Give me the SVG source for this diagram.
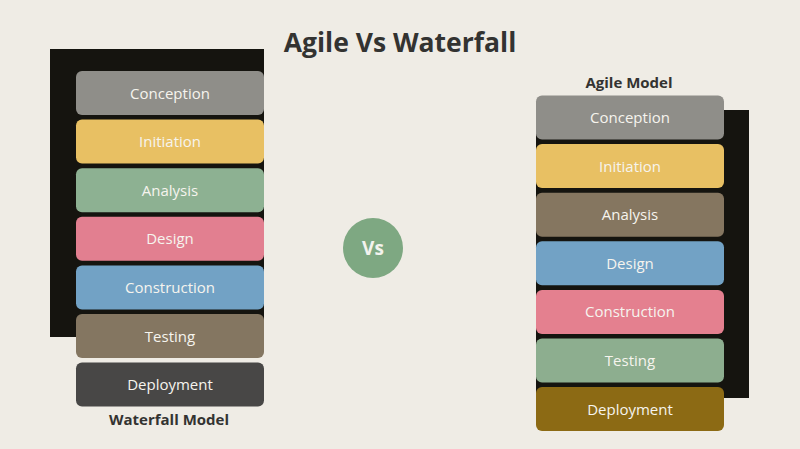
<svg xmlns="http://www.w3.org/2000/svg" width="800" height="449" viewBox="0 0 800 449">
<style>
.lbl{font-family:"Open Sans","Noto Sans","Liberation Sans",sans-serif;font-size:15px;fill:#f6f4ee;text-anchor:middle}
.hd{font-family:"Open Sans","Noto Sans","Liberation Sans",sans-serif;font-weight:bold;fill:#333331;text-anchor:middle}
</style>
<rect width="800" height="449" fill="#efece5"/>
<text class="hd" x="400" y="51.5" font-size="26.5">Agile Vs Waterfall</text>
<g id="waterfall">
<rect x="50" y="49" width="214" height="288" fill="#15140f"/>
<g id="wf-conception"><rect x="76" y="71" width="188" height="44" rx="6" fill="#8f8e89"/><text class="lbl" x="170" y="98.5">Conception</text></g>
<g id="wf-initiation"><rect x="76" y="119.6" width="188" height="44" rx="6" fill="#e8c063"/><text class="lbl" x="170" y="147">Initiation</text></g>
<g id="wf-analysis"><rect x="76" y="168.2" width="188" height="44" rx="6" fill="#8db192"/><text class="lbl" x="170" y="195.7">Analysis</text></g>
<g id="wf-design"><rect x="76" y="216.8" width="188" height="44" rx="6" fill="#e27f90"/><text class="lbl" x="170" y="244.3">Design</text></g>
<g id="wf-construction"><rect x="76" y="265.4" width="188" height="44" rx="6" fill="#72a2c5"/><text class="lbl" x="170" y="292.9">Construction</text></g>
<g id="wf-testing"><rect x="76" y="314" width="188" height="44" rx="6" fill="#847661"/><text class="lbl" x="170" y="341.5">Testing</text></g>
<g id="wf-deployment"><rect x="76" y="362.6" width="188" height="44" rx="6" fill="#484746"/><text class="lbl" x="170" y="390.1">Deployment</text></g>
<text class="hd" x="169" y="425" font-size="15">Waterfall Model</text>
</g>
<g id="vs"><circle cx="373" cy="248" r="30" fill="#7ea882"/><text class="hd" x="373" y="255" font-size="19" style="fill:#f3f3ee">Vs</text></g>
<g id="agile">
<rect x="536" y="110" width="213" height="288" fill="#15140f"/>
<text class="hd" x="629" y="88" font-size="15">Agile Model</text>
<g id="ag-conception"><rect x="536" y="95.5" width="188" height="44" rx="6" fill="#8f8e89"/><text class="lbl" x="630" y="123">Conception</text></g>
<g id="ag-initiation"><rect x="536" y="144.1" width="188" height="44" rx="6" fill="#e8c063"/><text class="lbl" x="630" y="171.6">Initiation</text></g>
<g id="ag-analysis"><rect x="536" y="192.7" width="188" height="44" rx="6" fill="#857660"/><text class="lbl" x="630" y="220.2">Analysis</text></g>
<g id="ag-design"><rect x="536" y="241.3" width="188" height="44" rx="6" fill="#72a2c5"/><text class="lbl" x="630" y="268.8">Design</text></g>
<g id="ag-construction"><rect x="536" y="289.9" width="188" height="44" rx="6" fill="#e4808f"/><text class="lbl" x="630" y="317.4">Construction</text></g>
<g id="ag-testing"><rect x="536" y="338.5" width="188" height="44" rx="6" fill="#8dae8f"/><text class="lbl" x="630" y="366">Testing</text></g>
<g id="ag-deployment"><rect x="536" y="387.1" width="188" height="44" rx="6" fill="#8c6a14"/><text class="lbl" x="630" y="414.6">Deployment</text></g>
</g>
<g id="connectors"/>
</svg>
